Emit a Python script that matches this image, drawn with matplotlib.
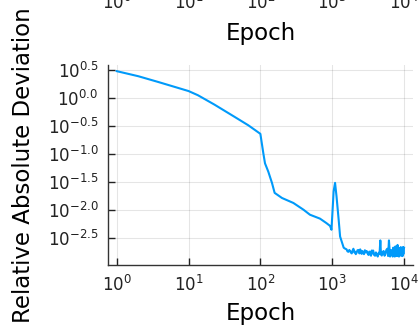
import numpy as np
import matplotlib
matplotlib.use("Agg")
import matplotlib.pyplot as plt
from matplotlib.ticker import FixedLocator, FixedFormatter, NullLocator

# values (epoch, relative absolute deviation)
epochs = [
    1, 2, 3.8, 6.5, 10, 13.5, 23, 44, 68, 100,
    110, 116, 129, 145, 158, 200, 288, 398, 490, 676, 832, 933, 977,
    1047, 1096, 1148, 1230, 1288, 1445,
    1520, 1585, 1630, 1680, 1730, 1778, 1830, 1870, 1920, 1972, 2030, 2080,
    2130, 2188, 2250, 2320, 2390, 2455, 2510, 2570, 2630, 2692, 2770, 2850,
    2930, 3020, 3110, 3200, 3290, 3388, 3470, 3550, 3630, 3715, 3830, 3950,
    4060, 4169, 4300, 4450, 4560, 4677, 4780, 4898, 5050, 5200, 5350, 5495,
    5670, 5850, 6000, 6166, 6390, 6607, 6730, 6850, 6960, 7079, 7190, 7300,
    7440, 7586, 7720, 7850, 7990, 8128, 8210, 8300, 8400, 8511, 8630, 8750,
    8880, 9016, 9150, 9300, 9420, 9550, 9680, 9800, 9900, 10000,
]
deviation = [
    3.02, 2.45, 1.93, 1.57, 1.33, 1.12, 0.759, 0.457, 0.324, 0.228,
    0.102, 0.0676, 0.0479, 0.0302, 0.0200, 0.0162, 0.0132, 0.0100, 0.00813,
    0.00692, 0.00575, 0.00513, 0.00437,
    0.0214, 0.0302, 0.0174, 0.00661, 0.00331, 0.00209,
    0.00200, 0.00195, 0.00180, 0.00176, 0.00190, 0.00182, 0.00170, 0.00165,
    0.00185, 0.00200, 0.00172, 0.00178, 0.00160, 0.00170, 0.00188, 0.00190,
    0.00165, 0.00195, 0.00170, 0.00162, 0.00182, 0.00170, 0.00160, 0.00188,
    0.00172, 0.00182, 0.00165, 0.00155, 0.00178, 0.00158, 0.00150, 0.00186,
    0.00165, 0.00186, 0.00155, 0.00150, 0.00172, 0.00158, 0.00145, 0.00170,
    0.00160, 0.00282, 0.00158, 0.00151, 0.00175, 0.00182, 0.00150, 0.00160,
    0.00190, 0.00200, 0.00148, 0.00282, 0.00145, 0.00190, 0.00160, 0.00170,
    0.00145, 0.00209, 0.00150, 0.00185, 0.00145, 0.00220, 0.00150, 0.00175,
    0.00148, 0.00234, 0.00160, 0.00148, 0.00195, 0.00145, 0.00205, 0.00150,
    0.00190, 0.00214, 0.00155, 0.00150, 0.00200, 0.00148, 0.00215, 0.00160,
    0.00198, 0.00209,
]

x_ticks = [1, 10, 100, 1000, 10000]
x_tick_labels = ["$10^{0}$", "$10^{1}$", "$10^{2}$", "$10^{3}$", "$10^{4}$"]
y_ticks = [10**0.5, 10**0.0, 10**-0.5, 10**-1.0, 10**-1.5, 10**-2.0, 10**-2.5]
y_tick_labels = ["$10^{0.5}$", "$10^{0.0}$", "$10^{-0.5}$", "$10^{-1.0}$",
                 "$10^{-1.5}$", "$10^{-2.0}$", "$10^{-2.5}$"]

line_color = "#009AFA"
x_lim = (10**-0.121, 10**4.125)
y_lim = (10**-2.99, 10**0.59)


def style_axis(ax):
    ax.set_xscale("log")
    ax.set_xlim(*x_lim)
    ax.xaxis.set_major_locator(FixedLocator(x_ticks))
    ax.xaxis.set_major_formatter(FixedFormatter(x_tick_labels))
    ax.xaxis.set_minor_locator(NullLocator())
    ax.tick_params(axis="both", which="major", direction="in", length=5,
                   width=1, labelsize=12, colors="#222222", pad=7)
    ax.set_xlabel("Epoch", fontsize=16.5, labelpad=5)
    for side in ["top", "right"]:
        ax.spines[side].set_visible(False)
    for side in ["left", "bottom"]:
        ax.spines[side].set_color("#333333")
        ax.spines[side].set_linewidth(1)


fig = plt.figure(figsize=(4.19, 3.27), dpi=100)

# main panel
ax = fig.add_axes([0.2578, 0.1896, 0.7279, 0.6116])
ax.plot(epochs, deviation, color=line_color, linewidth=1.5)
style_axis(ax)
ax.set_yscale("log")
ax.set_ylim(*y_lim)
ax.yaxis.set_major_locator(FixedLocator(y_ticks))
ax.yaxis.set_major_formatter(FixedFormatter(y_tick_labels))
ax.yaxis.set_minor_locator(NullLocator())
ax.grid(True, color="black", alpha=0.1, linewidth=0.8)
ax.set_axisbelow(True)
ax.set_ylabel("Relative Absolute Deviation", fontsize=16.5, labelpad=9)

# panel above, mostly outside the figure (only its x labels peek in)
ax_top = fig.add_axes([0.2578, 1.061, 0.7279, 0.6])
style_axis(ax_top)
ax_top.set_yticks([])
ax_top.spines["left"].set_visible(False)
ax_top.spines["bottom"].set_visible(False)
ax_top.tick_params(axis="x", length=0, pad=9.5)
ax_top.xaxis.labelpad = 6

fig.savefig("out.png", dpi=100)
